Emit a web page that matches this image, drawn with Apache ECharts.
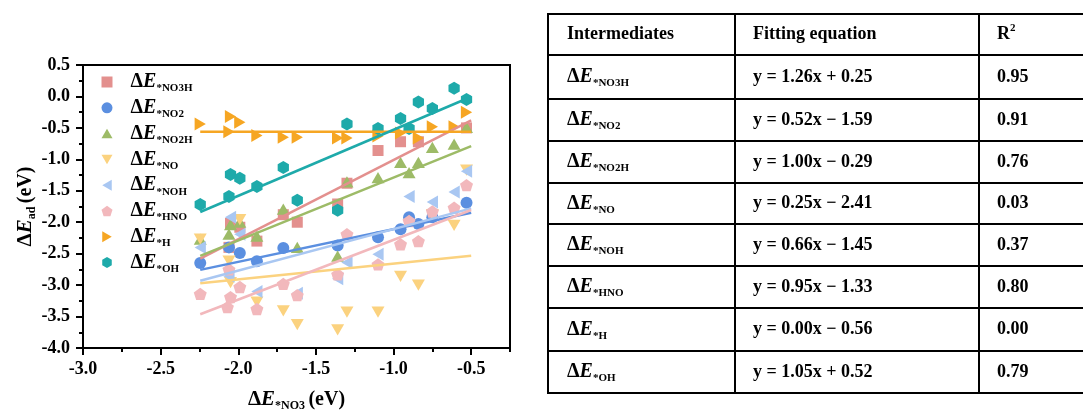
<!DOCTYPE html>
<html>
<head>
<meta charset="utf-8">
<script src="https://cdn.jsdelivr.net/npm/echarts@6/dist/echarts.min.js"></script>
<style>
  html, body { margin: 0; padding: 0; background: #fff; }
  #chart { width: 1083px; height: 417px; }
</style>
</head>
<body>
<div id="chart"></div>
<script>
const FONT = '"Liberation Serif", "Times New Roman", serif';

// Intermediates (legend / table order)
const species = ['*NO3H', '*NO2', '*NO2H', '*NO', '*NOH', '*HNO', '*H', '*OH'];
const colors = ['#e3908e', '#5b8fe0', '#9dbb67', '#fbd27f', '#a9c7f2', '#f2b8bc', '#f6a623', '#1eaaaa'];

// Linear fits  y = slope * x + intercept
const slopes = [1.26, 0.52, 1.00, 0.25, 0.66, 0.95, 0.00, 1.05];
const intercepts = [0.25, -1.59, -0.29, -2.41, -1.45, -1.33, -0.56, 0.52];
const r2 = ['0.95', '0.91', '0.76', '0.03', '0.37', '0.80', '0.00', '0.79'];
const fitRange = [-2.245, -0.5];

// Adsorption energies [ΔE*NO3, ΔE_ad] (eV)
const ptsNO3H = [[-2.06, -2.40], [-2.05, -2.02], [-1.99, -2.08], [-1.88, -2.30], [-1.71, -1.88], [-1.62, -2.00],
  [-1.36, -1.71], [-1.30, -1.38], [-1.10, -0.86], [-0.955, -0.72], [-0.84, -0.72], [-0.53, -0.50]];
const ptsNO2 = [[-2.245, -2.65], [-2.06, -2.40], [-1.99, -2.49], [-1.88, -2.62], [-1.71, -2.41], [-1.36, -2.37],
  [-1.10, -2.24], [-0.955, -2.11], [-0.90, -1.92], [-0.84, -2.03], [-0.75, -1.92], [-0.53, -1.69]];
const ptsNO2H = [[-2.245, -2.27], [-2.06, -2.19], [-2.05, -2.04], [-1.99, -2.00], [-1.88, -2.22], [-1.71, -1.79],
  [-1.62, -2.40], [-1.36, -2.54], [-1.30, -1.36], [-1.10, -1.29], [-0.955, -1.05], [-0.90, -1.21],
  [-0.84, -1.05], [-0.75, -0.81], [-0.61, -0.76], [-0.53, -0.49]];
const ptsNO = [[-2.245, -2.27], [-2.06, -2.62], [-2.05, -2.96], [-1.99, -1.96], [-1.88, -3.27], [-1.71, -3.41],
  [-1.62, -3.63], [-1.36, -3.71], [-1.30, -3.43], [-1.10, -3.43], [-0.955, -2.86], [-0.84, -3.00],
  [-0.75, -1.88], [-0.61, -2.05], [-0.53, -1.17]];
const ptsNOH = [[-2.245, -2.40], [-2.06, -2.86], [-2.05, -1.92], [-1.99, -2.19], [-1.88, -3.10], [-1.62, -3.13],
  [-1.36, -2.90], [-1.30, -2.64], [-1.10, -2.51], [-0.90, -1.59], [-0.75, -1.68], [-0.61, -1.52], [-0.53, -1.19]];
const ptsHNO = [[-2.245, -3.14], [-2.06, -2.75], [-2.05, -3.19], [-2.07, -3.35], [-1.99, -3.03], [-1.88, -3.38],
  [-1.71, -2.98], [-1.62, -3.16], [-1.36, -2.83], [-1.30, -2.19], [-1.10, -2.67], [-0.955, -2.35],
  [-0.90, -1.98], [-0.84, -2.30], [-0.75, -1.83], [-0.61, -1.77], [-0.53, -1.41]];
const ptsH = [[-2.245, -0.44], [-2.06, -0.56], [-2.05, -0.32], [-1.99, -0.41], [-1.88, -0.62], [-1.71, -0.65],
  [-1.62, -0.65], [-1.36, -0.66], [-1.30, -0.66], [-1.10, -0.63], [-0.955, -0.58], [-0.84, -0.66],
  [-0.75, -0.48], [-0.61, -0.48], [-0.53, -0.25]];
const ptsOH = [[-2.245, -1.72], [-2.06, -1.59], [-2.05, -1.24], [-1.99, -1.30], [-1.88, -1.43], [-1.71, -1.13],
  [-1.62, -1.65], [-1.36, -1.81], [-1.30, -0.44], [-1.10, -0.51], [-0.955, -0.35], [-0.90, -0.51],
  [-0.84, -0.09], [-0.75, -0.19], [-0.61, 0.13], [-0.53, -0.05]];
const pointSets = [ptsNO3H, ptsNO2, ptsNO2H, ptsNO, ptsNOH, ptsHNO, ptsH, ptsOH];

// Table headers
const headers = ['Intermediates', 'Fitting equation', 'R2'];

// marker shapes (pre-oriented so the legend icons match the plotted marks)
const HEX = 'path://M0,-10L8.66,-5L8.66,5L0,10L-8.66,5L-8.66,-5Z';
const PENT = 'path://M0,-10L9.51,-3.09L5.88,8.09L-5.88,8.09L-9.51,-3.09Z';
const TRI_UP = 'path://M0,-10L10,7.3L-10,7.3Z';
const TRI_DOWN = 'path://M0,10L10,-7.3L-10,-7.3Z';
const TRI_LEFT = 'path://M-10,0L7.3,-10L7.3,10Z';
const TRI_RIGHT = 'path://M10,0L-7.3,-10L-7.3,10Z';
const markers = [
  { symbol: 'rect', size: 11 },
  { symbol: 'circle', size: 12 },
  { symbol: TRI_UP, size: 13 },
  { symbol: TRI_DOWN, size: 13 },
  { symbol: TRI_LEFT, size: 13 },
  { symbol: PENT, size: 13 },
  { symbol: TRI_RIGHT, size: 13 },
  { symbol: HEX, size: 13 }
];

const chart = echarts.init(document.getElementById('chart'), null, { renderer: 'canvas' });

// rich text pieces for "ΔE" with a subscript
const richLabel = {
  d: { fontFamily: FONT, fontWeight: 'bold', fontSize: 21, lineHeight: 24, color: '#000' },
  e: { fontFamily: FONT, fontWeight: 'bold', fontStyle: 'italic', fontSize: 21, lineHeight: 24, color: '#000' },
  s: { fontFamily: FONT, fontWeight: 'bold', fontSize: 12, lineHeight: 12, verticalAlign: 'bottom', color: '#000' },
  u: { fontFamily: FONT, fontWeight: 'bold', fontSize: 20, lineHeight: 24, color: '#000' }
};
const legendRich = {
  d: { fontFamily: FONT, fontWeight: 'bold', fontSize: 20, lineHeight: 24, color: '#000', padding: [0, 0, 0, 13] },
  e: { fontFamily: FONT, fontWeight: 'bold', fontStyle: 'italic', fontSize: 20, lineHeight: 24, color: '#000' },
  s: { fontFamily: FONT, fontWeight: 'bold', fontSize: 11, lineHeight: 12, verticalAlign: 'bottom', color: '#000' }
};

const series = [];
species.forEach((name, i) => {
  series.push({
    type: 'scatter',
    name: name,
    data: pointSets[i],
    symbol: markers[i].symbol,
    symbolSize: markers[i].size,
    symbolKeepAspect: true,
    itemStyle: { color: colors[i], opacity: 1 },
    emphasis: { disabled: true },
    z: 2
  });
});
species.forEach((name, i) => {
  series.push({
    type: 'line',
    name: 'fit ' + name,
    data: fitRange.map(x => [x, slopes[i] * x + intercepts[i]]),
    showSymbol: false,
    symbol: 'none',
    lineStyle: { color: colors[i], width: 2.5 },
    emphasis: { disabled: true },
    silent: true,
    z: 3
  });
});

// ---- table on the right ----
const colX = [548, 735, 979, 1090];
const rowY = [14, 55, 99, 141, 183, 224, 266, 308, 351, 393];
const textX = [567, 753, 997];
const graphics = [];
rowY.forEach(y => {
  graphics.push({ type: 'line', shape: { x1: colX[0] - 1, y1: y, x2: colX[3], y2: y },
    style: { stroke: '#000', lineWidth: 2 }, silent: true });
});
colX.forEach(x => {
  graphics.push({ type: 'line', shape: { x1: x, y1: rowY[0], x2: x, y2: rowY[rowY.length - 1] },
    style: { stroke: '#000', lineWidth: 2 }, silent: true });
});
const cellFont = 'bold 18px ' + FONT;
const tRich = {
  d: { fontFamily: FONT, fontWeight: 'bold', fontSize: 20, lineHeight: 24, fill: '#000' },
  e: { fontFamily: FONT, fontWeight: 'bold', fontStyle: 'italic', fontSize: 20, lineHeight: 24, fill: '#000' },
  s: { fontFamily: FONT, fontWeight: 'bold', fontSize: 11, lineHeight: 12, verticalAlign: 'bottom', fill: '#000' },
  t: { fontFamily: FONT, fontWeight: 'bold', fontSize: 18, lineHeight: 24, fill: '#000' },
  sup: { fontFamily: FONT, fontWeight: 'bold', fontSize: 11, lineHeight: 13, verticalAlign: 'top', fill: '#000' }
};
function cellText(x, y, text, rich) {
  const style = { text: text, fill: '#000', font: cellFont, align: 'left', verticalAlign: 'middle',
    textAlign: 'left', textVerticalAlign: 'middle' };
  if (rich) style.rich = tRich;
  return { type: 'text', x: x, y: y, style: style, silent: true };
}
const headY = (rowY[0] + rowY[1]) / 2;
graphics.push(cellText(textX[0], headY, headers[0]));
graphics.push(cellText(textX[1], headY, headers[1]));
graphics.push(cellText(textX[2], headY, '{t|R}{sup|2}', true));
const fmt = v => v.toFixed(2);
species.forEach((name, i) => {
  const cy = (rowY[i + 1] + rowY[i + 2]) / 2;
  const b = intercepts[i];
  const eq = 'y = ' + fmt(slopes[i]) + 'x ' + (b < 0 ? '\u2212 ' : '+ ') + fmt(Math.abs(b));
  graphics.push(cellText(textX[0], cy, '{d|\u0394}{e|E}{s|' + name + '}', true));
  graphics.push(cellText(textX[1], cy, eq));
  graphics.push(cellText(textX[2], cy, r2[i]));
});

const axisLabelStyle = { fontFamily: FONT, fontWeight: 'bold', fontSize: 18, color: '#000' };

chart.setOption({
  animation: false,
  backgroundColor: '#fff',
  grid: { left: 83, top: 65, width: 427, height: 283, show: true, borderColor: '#000', borderWidth: 2,
    backgroundColor: 'transparent' },
  legend: {
    data: species,
    orient: 'vertical',
    left: 101.5,
    top: 72,
    padding: 0,
    itemGap: 3.8,
    itemWidth: 11,
    itemHeight: 11,
    selectedMode: false,
    formatter: n => '{d|\u0394}{e|E}{s|' + n + '}',
    textStyle: { rich: legendRich }
  },
  xAxis: [{
    type: 'value', min: -3, max: -0.25, interval: 0.5,
    name: '{d|\u0394}{e|E}{s|*NO3} {u|(eV)}',
    nameLocation: 'middle', nameGap: 40,
    nameTextStyle: { rich: richLabel },
    axisLine: { show: true, onZero: false, lineStyle: { color: '#000', width: 2 } },
    axisTick: { show: true, inside: false, length: 7, lineStyle: { color: '#000', width: 2 } },
    minorTick: { show: false },
    axisLabel: { show: true, margin: 12, showMaxLabel: false, formatter: v => v.toFixed(1), ...axisLabelStyle },
    splitLine: { show: false }
  }, {
    // minor ticks every 0.25
    type: 'value', min: -3, max: -0.25, interval: 0.25, position: 'bottom',
    axisLine: { show: false, onZero: false },
    axisTick: { show: true, inside: false, length: 4, lineStyle: { color: '#000', width: 2 } },
    axisLabel: { show: false },
    splitLine: { show: false }
  }],
  yAxis: {
    type: 'value', min: -4, max: 0.5, interval: 0.5,
    name: '{d|\u0394}{e|E}{s|ad} {u|(eV)}',
    nameLocation: 'middle', nameGap: 45,
    nameTextStyle: { rich: richLabel },
    axisLine: { show: true, onZero: false, lineStyle: { color: '#000', width: 2 } },
    axisTick: { show: true, inside: false, length: 7, lineStyle: { color: '#000', width: 2 } },
    minorTick: { show: true, splitNumber: 2, length: 4, lineStyle: { color: '#000', width: 2 } },
    axisLabel: { show: true, margin: 13, formatter: v => v.toFixed(1), ...axisLabelStyle },
    splitLine: { show: false }
  },
  series: series,
  graphic: graphics
});
</script>
</body>
</html>
